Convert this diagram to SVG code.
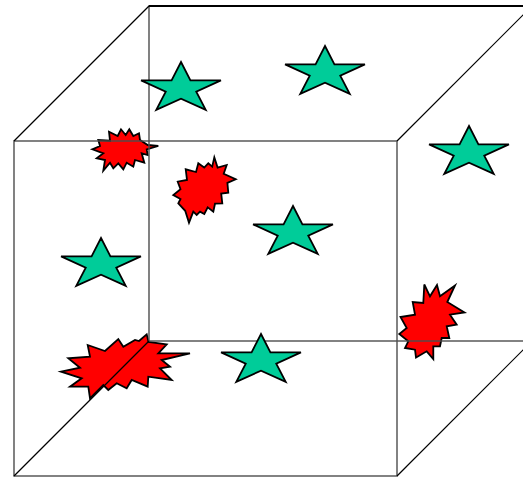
<svg xmlns="http://www.w3.org/2000/svg" xmlns:xlink="http://www.w3.org/1999/xlink" width="523" height="478" viewBox="0 0 523 478">
<style>
.star{fill:#00CC99;stroke:#000;stroke-width:1.8;stroke-linejoin:miter}
.burst{fill:#FF0000;stroke:#000;stroke-width:1.8;stroke-linejoin:miter}
.edge{fill:none;stroke:#4d4d4d;stroke-width:1.4}
.diag{fill:none;stroke:#000;stroke-width:1.2}
</style>
<defs>
<path id="starShape" d="M0,-26.5 L9.43,-8.19 L39.94,-8.19 L15.26,3.13 L24.69,21.44 L0,10.12 L-24.69,21.44 L-15.26,3.13 L-39.94,-8.19 L-9.43,-8.19 Z"/>
</defs>
<rect width="523" height="478" fill="#fff"/>
<g id="burst-a" class="burst"><path d="M92.3,149.3 L100,146 L98.3,140 L110,140.7 L109,131.7 L117.7,136 L121,129.3 L125.7,135 L129.3,129.3 L133.3,136 L139,133.3 L140,140 L147.7,145 L158.3,146 L146.7,149.3 L147.7,155 L141.7,153.3 L144.3,162.7 L135,160 L133.3,166.7 L126.7,162.7 L123.3,169.3 L118.3,163.3 L113.3,168.3 L110,162.7 L103.3,170.7 L105,160 L96.7,158.3 L103.3,153.3 Z"/></g>
<g id="burst-b" class="burst"><path d="M214.3,157.3 L217.6,167.6 L226.7,165 L223.7,173.8 L235.7,179.3 L227.4,182.8 L228.3,192.7 L221.2,193.6 L222.3,203.3 L215,203.7 L213.3,211.7 L207.7,207.3 L204.3,214 L200,211.7 L196.7,215 L193.3,211.7 L189,222.7 L185.2,210.8 L178.3,203.3 L180.5,199 L173.3,195 L180.5,189.2 L177.7,181.7 L187,180 L185.7,169.3 L196,172 L198.3,163.3 L204.2,167.6 L208.3,163.3 L212.2,166.6 Z"/></g>
<g id="burst-c" class="burst"><path d="M61,371.7 L80,367.7 L68.3,358.3 L90,356.7 L87.7,345 L105,351 L118.3,339 L123.3,346.7 L135,340 L139,341 L146.7,334.3 L148.5,342 L166.7,344.3 L158.3,353.3 L190,353.3 L161.7,360 L170,366.7 L160,368.3 L171.7,380 L148.3,376.7 L147.7,386.7 L131.7,380 L126.7,388.3 L116.7,383.3 L108.3,390 L103.3,385 L90,398.3 L88.3,386.7 L70,386.7 L81.7,378.3 Z"/></g>
<g id="burst-d" class="burst"><path d="M424.3,284.5 L430,296.3 L437,285 L440,296.3 L455,285.5 L447.3,302 L464.5,312.5 L450,314.7 L456.7,324.7 L446.7,326.3 L449.3,338 L441.7,338 L440,346.3 L433.3,346.3 L433.3,359 L426.7,351.3 L416,357.5 L415,349.7 L405,348 L408.3,341.3 L399.3,334 L406.7,328 L400.5,317 L415,314.7 L412.7,302 L423.3,303 Z"/></g>
<g id="edges">
<rect class="edge" x="14" y="141" width="383" height="335"/>
<rect class="edge" x="149" y="6" width="383" height="335"/>
<line x1="149" y1="6" x2="523" y2="6" stroke="#000" stroke-width="2"/>
<line class="diag" x1="14" y1="141" x2="149" y2="6"/>
<line class="diag" x1="397" y1="141" x2="532" y2="6"/>
<line class="diag" x1="14" y1="476" x2="149" y2="341"/>
<line class="diag" x1="397" y1="476" x2="532" y2="341"/>
</g>
<g id="star-1" class="star"><use xlink:href="#starShape" transform="translate(181,88.5)"/></g>
<g id="star-2" class="star"><use xlink:href="#starShape" transform="translate(325,72.5)"/></g>
<g id="star-3" class="star"><use xlink:href="#starShape" transform="translate(469,152.5)"/></g>
<g id="star-4" class="star"><use xlink:href="#starShape" transform="translate(293,232.5)"/></g>
<g id="star-5" class="star"><use xlink:href="#starShape" transform="translate(101,264.5)"/></g>
<g id="star-6" class="star"><use xlink:href="#starShape" transform="translate(261,360.5)"/></g>
</svg>
